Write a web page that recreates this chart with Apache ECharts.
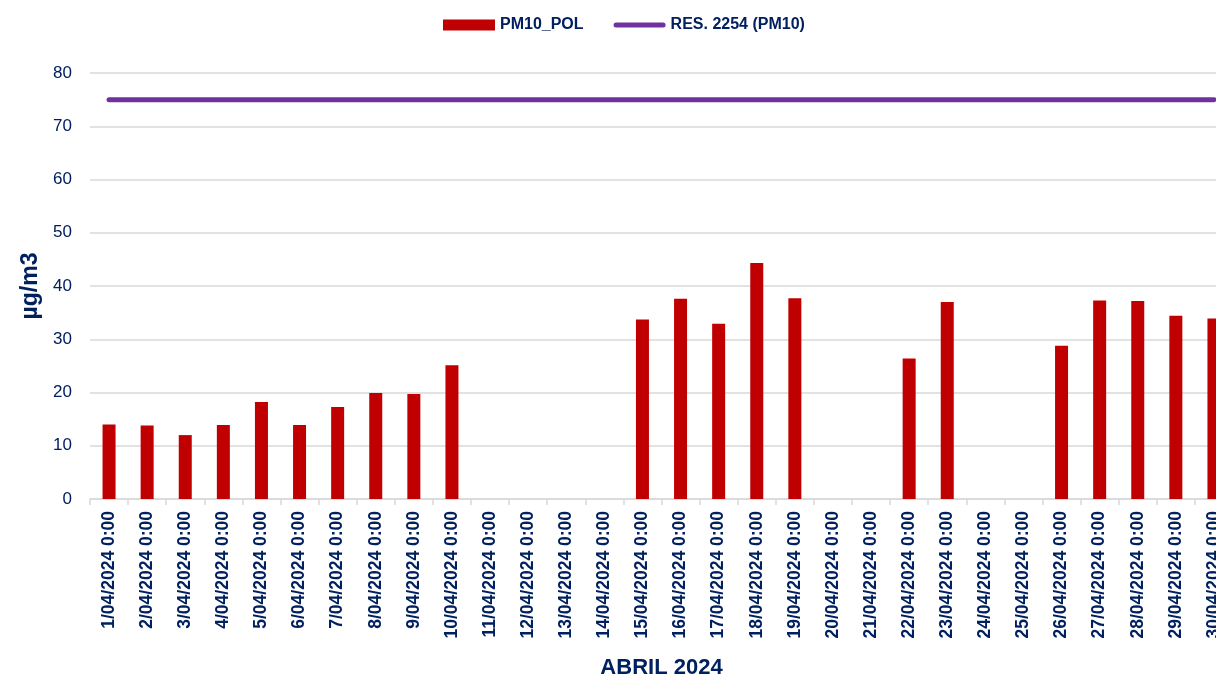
<!DOCTYPE html>
<html>
<head>
<meta charset="utf-8">
<script src="https://cdn.jsdelivr.net/npm/echarts@6/dist/echarts.min.js"></script>
<style>
  html, body { margin: 0; padding: 0; background: #fff; }
  #chart { width: 1216px; height: 679px; }
</style>
</head>
<body>
<div id="chart"></div>
<script>
var days = [];
var dayNums = ['1','2','3','4','5','6','7','8','9','10','11','12','13','14','15',
               '16','17','18','19','20','21','22','23','24','25','26','27','28','29','30'];
for (var i = 0; i < dayNums.length; i++) {
	days.push(dayNums[i] + '/04/2024 0:00');
}

// PM10 daily values (null = no data)
var pm10Values = [14.0, 13.8, 12.0, 13.9, 18.2, 13.9, 17.3, 19.9, 19.7, 25.1,
                  null, null, null, null, 33.7, 37.6, 32.9, 44.3, 37.7, null,
                  null, 26.4, 37.0, null, null, 28.8, 37.3, 37.2, 34.4, 33.9];

// Res. 2254 limit
var limitValues = [75, 75, 75, 75, 75, 75, 75, 75, 75, 75,
                   75, 75, 75, 75, 75, 75, 75, 75, 75, 75,
                   75, 75, 75, 75, 75, 75, 75, 75, 75, 75];

var yTicks = [0, 10, 20, 30, 40, 50, 60, 70, 80];

var navy = '#002060';
var fontFam = '"Liberation Sans", Arial, sans-serif';

var chart = echarts.init(document.getElementById('chart'));
chart.setOption({
	animation: false,
	textStyle: { fontFamily: fontFam },
	legend: {
		top: 12,
		left: 438,
		itemWidth: 52,
		itemHeight: 11,
		itemGap: 30,
		textStyle: { color: navy, fontWeight: 'bold', fontSize: 16, fontFamily: fontFam },
		data: [
			{ name: 'PM10_POL', icon: 'rect' },
			{
				name: 'RES. 2254 (PM10)',
				icon: 'path://M2.5,0 h47 a2.5,2.5 0 0 1 0,5 h-47 a2.5,2.5 0 0 1 0,-5 z',
				itemStyle: { color: '#7030A0' }
			}
		]
	},
	grid: {
		left: 90,
		right: -17,
		top: 73,
		bottom: 180,
		outerBoundsMode: 'none',
		containLabel: false
	},
	xAxis: {
		type: 'category',
		data: days,
		name: 'ABRIL 2024',
		nameLocation: 'middle',
		nameGap: 158,
		nameTextStyle: { color: navy, fontWeight: 'bold', fontSize: 22, fontFamily: fontFam },
		axisLine: { lineStyle: { color: '#d9d9d9', width: 1.5 } },
		axisTick: { show: true, length: 6, lineStyle: { color: '#d9d9d9', width: 1.5 } },
		axisLabel: {
			rotate: 90,
			interval: 0,
			margin: 12,
			color: navy,
			fontWeight: 'bold',
			fontSize: 17.5,
			fontFamily: fontFam
		}
	},
	yAxis: {
		type: 'value',
		min: yTicks[0],
		max: yTicks[yTicks.length - 1],
		interval: 10,
		name: 'µg/m3',
		nameLocation: 'middle',
		nameGap: 42,
		nameTextStyle: { color: navy, fontWeight: 'bold', fontSize: 23, fontFamily: fontFam },
		axisLine: { show: false },
		axisTick: { show: false },
		axisLabel: { color: navy, fontSize: 17, margin: 18, fontFamily: fontFam },
		splitLine: { lineStyle: { color: '#d9d9d9', width: 1.5 } }
	},
	series: [
		{
			name: 'PM10_POL',
			type: 'bar',
			barWidth: 13,
			itemStyle: { color: '#C00000' },
			data: pm10Values
		},
		{
			name: 'RES. 2254 (PM10)',
			type: 'line',
			symbol: 'none',
			lineStyle: { color: '#7030A0', width: 5, cap: 'round' },
			itemStyle: { color: '#7030A0' },
			data: limitValues
		}
	]
});
</script>
</body>
</html>
